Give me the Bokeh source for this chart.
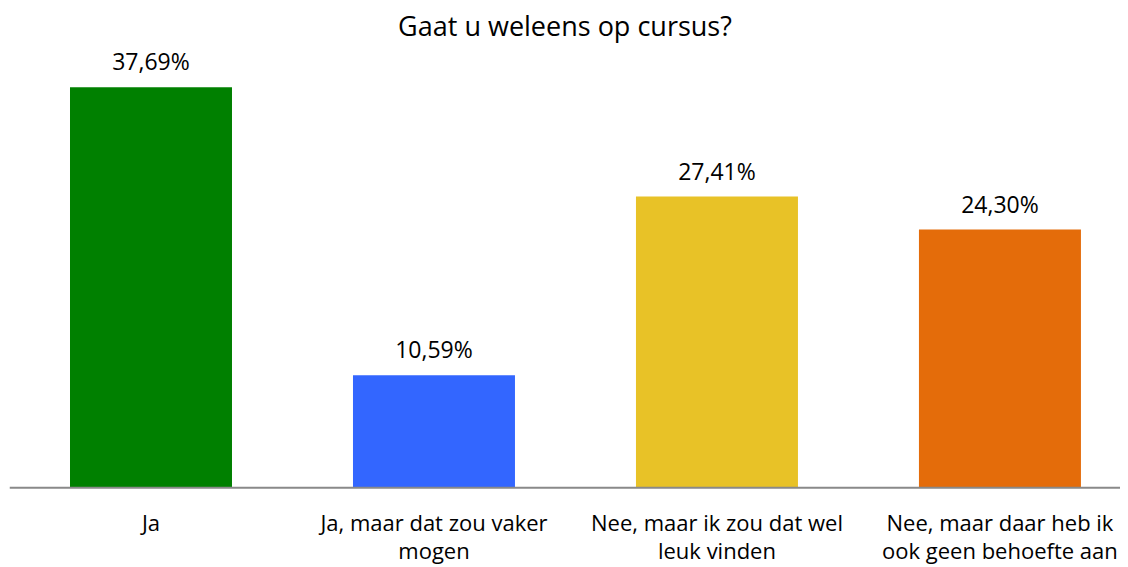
from bokeh.plotting import figure
from bokeh.models import ColumnDataSource, LabelSet, Range1d, Span
from bokeh.core.properties import value
from bokeh.embed import file_html
from bokeh.resources import INLINE

categories = ["Ja", "Ja, maar dat zou vaker\nmogen", "Nee, maar ik zou dat wel\nleuk vinden", "Nee, maar daar heb ik\nook geen behoefte aan"]
values = [37.69, 10.59, 27.41, 24.30]
labels = ["37,69%", "10,59%", "27,41%", "24,30%"]
colors = ["#008000", "#3366FF", "#E8C227", "#E46C0A"]

FONT = "Open Sans"
xs = list(range(len(categories)))
line1 = [c.split("\n")[0] for c in categories]
line2 = [c.split("\n")[1] if "\n" in c else "" for c in categories]
src = ColumnDataSource(dict(x=xs, top=values, label=labels, color=colors,
                            zero=[0] * len(xs), l1=line1, l2=line2))

p = figure(width=1120, height=567, output_backend="svg", toolbar_location=None,
           x_range=Range1d(-0.5, 3.426), y_range=Range1d(-7.5, 41.44),
           min_border_left=9, min_border_right=0, min_border_bottom=0, min_border_top=45,
           title="Gaat u weleens op cursus?")
p.title.align = "center"
p.title.text_font = FONT
p.title.text_font_size = "27px"
p.title.text_font_style = "normal"
p.title.text_color = "#000000"
p.title.offset = 0
p.title.standoff = 8

p.vbar(x="x", top="top", bottom=0, width=162/283, color="color", source=src, line_color=None)
p.add_layout(Span(location=0, dimension="width", line_color="#898989", line_width=2))

common = dict(source=src, text_align="center", text_font=value(FONT),
              text_font_size="22px", text_color="#000000")
p.add_layout(LabelSet(x="x", y="top", text="label", text_baseline="bottom", y_offset=10,
                      **{**common, "text_font_size": "23px"}))
p.add_layout(LabelSet(x="x", y="zero", text="l1", text_baseline="middle", y_offset=-34, **common))
p.add_layout(LabelSet(x="x", y="zero", text="l2", text_baseline="middle", y_offset=-62, **common))

p.xaxis.visible = False
p.yaxis.visible = False
p.grid.visible = False
p.outline_line_color = None

open("out.html", "w").write(file_html(p, INLINE))
